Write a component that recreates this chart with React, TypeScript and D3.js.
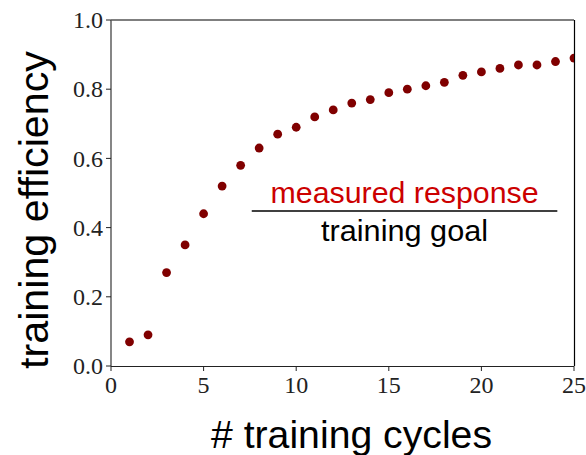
import React from "react";
import { scaleLinear, range, format } from "d3";

// training cycle number and measured efficiency
const cycles = range(1, 26);
const efficiency = [
  0.07, 0.09, 0.27, 0.35, 0.44, 0.52, 0.58, 0.63, 0.67, 0.69, 0.72, 0.74, 0.76,
  0.77, 0.79, 0.80, 0.81, 0.82, 0.84, 0.85, 0.86, 0.87, 0.87, 0.88, 0.89,
];
const xTicks = [0, 5, 10, 15, 20, 25];
const yTicks = [0, 0.2, 0.4, 0.6, 0.8, 1.0];
// annotation line (data coords)
const goalLine = { x0: 7.6, x1: 24.1, y: 0.448 };
const labelTop = "measured response";
const labelBottom = "training goal";
const xTitle = "# training cycles";
const yTitle = "training efficiency";

const W = 586;
const H = 455;
const left = 111;
const right = 574;
const top = 20;
const bottom = 366;

const App = () => {
  const x = scaleLinear().domain([0, 25]).range([left, right]);
  const y = scaleLinear().domain([0, 1]).range([bottom, top]);
  const fmt = format(".1f");
  const midX = x((goalLine.x0 + goalLine.x1) / 2);
  const lineY = y(goalLine.y);

  return (
    <svg
      width={W}
      height={H}
      style={{ position: "absolute", left: 0, top: 0, background: "#fff" }}
    >
      <defs>
        <clipPath id="plot-clip">
          <rect x={left} y={top} width={right - left} height={bottom - top} />
        </clipPath>
      </defs>

      {/* spines */}
      <line x1={left} x2={left} y1={top} y2={bottom} stroke="#444" strokeWidth={1.3} />
      <line x1={left} x2={right} y1={top} y2={top} stroke="#555" strokeWidth={1.3} />
      <line x1={left} x2={right} y1={bottom + 0.5} y2={bottom + 0.5} stroke="#222" strokeWidth={1.2} />
      <line x1={right + 0.5} x2={right + 0.5} y1={top} y2={bottom} stroke="#000" strokeWidth={1.2} />

      {/* ticks */}
      <g fontFamily="'Liberation Serif', 'DejaVu Serif', serif" fontSize={24} fill="#222">
        {xTicks.map((t) => (
          <g key={"x" + t}>
            <line x1={x(t)} x2={x(t)} y1={bottom} y2={bottom + 5} stroke="#222" />
            <text x={x(t)} y={393} textAnchor="middle">
              {t}
            </text>
          </g>
        ))}
        {yTicks.map((t) => (
          <g key={"y" + t}>
            <line x1={left - 5} x2={left} y1={y(t)} y2={y(t)} stroke="#222" />
            <text x={103} y={y(t)} dy="0.34em" textAnchor="end">
              {fmt(t)}
            </text>
          </g>
        ))}
      </g>

      {/* points */}
      <g clipPath="url(#plot-clip)">
        {cycles.map((c, i) => (
          <circle key={c} cx={x(c)} cy={y(efficiency[i])} r={4.4} fill="#800000" />
        ))}
      </g>

      {/* annotation */}
      <g fontFamily="'Liberation Sans', Arial, sans-serif" fontSize={29}>
        <text x={midX} y={lineY - 8} textAnchor="middle" fill="#cc0000" textLength={268} lengthAdjust="spacingAndGlyphs">
          {labelTop}
        </text>
        <line x1={x(goalLine.x0)} x2={x(goalLine.x1)} y1={lineY} y2={lineY} stroke="#000" strokeWidth={1.6} />
        <text x={midX} y={lineY + 30} textAnchor="middle" fill="#000" textLength={167} lengthAdjust="spacingAndGlyphs">
          {labelBottom}
        </text>
      </g>

      {/* axis titles */}
      <g fontFamily="'Liberation Sans', Arial, sans-serif" fill="#000">
        <text x={351.5} y={448} fontSize={39} textAnchor="middle" textLength={281} lengthAdjust="spacingAndGlyphs">
          {xTitle}
        </text>
        <text
          transform={`translate(48, 210) rotate(-90)`}
          fontSize={40}
          textAnchor="middle"
          textLength={318}
          lengthAdjust="spacingAndGlyphs"
        >
          {yTitle}
        </text>
      </g>
    </svg>
  );
};

export default App;
